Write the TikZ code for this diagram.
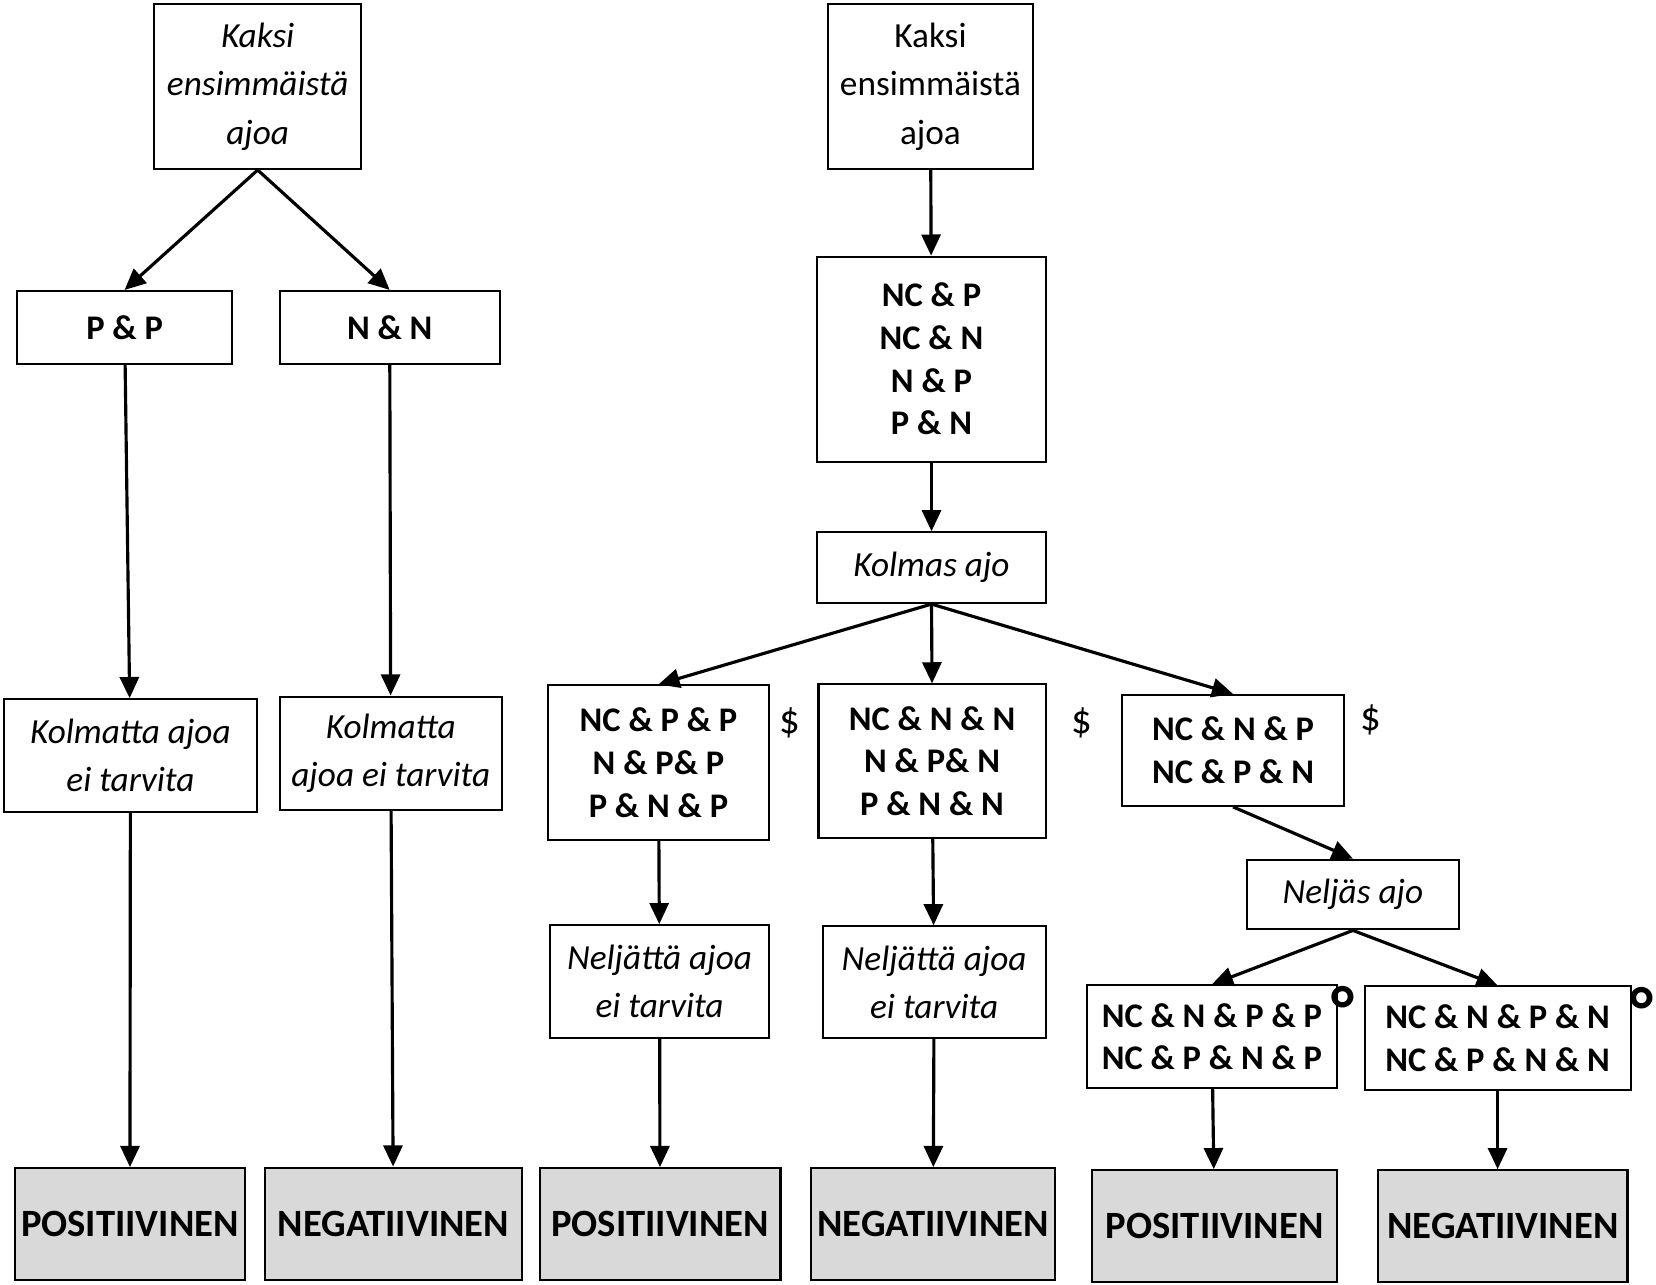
\documentclass[tikz,border=0pt]{standalone}
\usepackage{fontspec}
\setmainfont{Carlito}
\usepackage{xcolor}
\usepackage{tikz}
\usetikzlibrary{arrows.meta,positioning}
\definecolor{ResGray}{HTML}{D9D9D9}

\begin{document}
\begin{tikzpicture}[
  qbox/.style={draw,line width=1.1pt,align=center,inner sep=2pt,
               minimum width=#1,font=\fontsize{19}{26}\selectfont\itshape},
  cbox/.style={draw,line width=1.1pt,align=center,inner sep=2pt,
               minimum width=#1,font=\fontsize{18.6}{23}\selectfont\bfseries},
  res/.style={draw,line width=1.1pt,fill=ResGray,minimum width=#1,
              minimum height=2.12cm,font=\fontsize{20.8}{24}\selectfont\bfseries},
  sym/.style={inner sep=0pt,font=\fontsize{22}{26}\selectfont},
  arr/.style={-{Triangle[length=0.4cm,width=0.36cm]},line width=1.7pt}
]
  \useasboundingbox (0,0) rectangle (31.36,-24.32);

  % Left tree
  \node[qbox=3.92cm,minimum height=3.12cm] (k1) at (4.88,-1.64)
    {Kaksi\\ensimmäistä\\ajoa};
  \node[cbox=4.08cm,minimum height=1.38cm] (pp) at (2.36,-6.20) {P \& P};
  \node[cbox=4.16cm,minimum height=1.38cm] (nn) at (7.38,-6.20) {N \& N};
  \node[qbox=4.78cm,minimum height=2.14cm] (kol1) at (2.47,-14.31)
    {Kolmatta ajoa\\ei tarvita};
  \node[qbox=4.20cm,minimum height=2.14cm] (kol2) at (7.40,-14.26)
    {Kolmatta\\ajoa ei tarvita};
  \node[res=4.36cm] (pos1) at (2.46,-23.18) {POSITIIVINEN};
  \node[res=4.86cm] (neg1) at (7.45,-23.17) {NEGATIIVINEN};

  % Right tree
  \node[qbox=3.88cm,minimum height=3.12cm,font=\fontsize{19}{26}\selectfont] (k2)
    at (17.62,-1.64) {Kaksi\\ensimmäistä\\ajoa};
  \node[cbox=4.32cm,minimum height=3.88cm] (nc) at (17.64,-6.80)
    {NC \& P\\NC \& N\\N \& P\\P \& N};
  \node[qbox=4.32cm,minimum height=1.34cm] (kolmas) at (17.64,-10.75) {Kolmas ajo};

  % Third run
  \node[cbox=4.18cm,minimum height=2.92cm] (b1) at (12.47,-14.44)
    {NC \& P \& P\\N \& P\& P\\P \& N \& P};
  \node[cbox=4.30cm,minimum height=2.90cm] (b2) at (17.65,-14.41)
    {NC \& N \& N\\N \& P\& N\\P \& N \& N};
  \node[cbox=4.22cm,minimum height=2.10cm] (b3) at (23.35,-14.21)
    {NC \& N \& P\\NC \& P \& N};
  \node[sym] (d1) at (14.96,-13.68) {\$};
  \node[sym] (d2) at (20.48,-13.68) {\$};
  \node[sym] (d3) at (25.96,-13.64) {\$};

  % Fourth run
  \node[qbox=4.00cm,minimum height=1.32cm] (nelias) at (25.62,-16.94) {Neljäs ajo};
  \node[qbox=4.14cm,minimum height=2.14cm] (nel1) at (12.49,-18.59)
    {Neljättä ajoa\\ei tarvita};
  \node[qbox=4.22cm,minimum height=2.12cm] (nel2) at (17.69,-18.60)
    {Neljättä ajoa\\ei tarvita};
  \node[cbox=4.74cm,minimum height=1.94cm] (b4) at (22.95,-19.63)
    {NC \& N \& P \& P\\NC \& P \& N \& P};
  \node[cbox=5.04cm,minimum height=1.96cm] (b5) at (28.36,-19.66)
    {NC \& N \& P \& N\\NC \& P \& N \& N};
  \node[sym,font=\fontsize{36}{36}\selectfont\bfseries] (o1) at (25.44,-19.12) {°};
  \node[sym,font=\fontsize{36}{36}\selectfont\bfseries] (o2) at (31.10,-19.14) {°};

  % Results
  \node[res=4.56cm] (pos2) at (12.50,-23.18) {POSITIIVINEN};
  \node[res=4.62cm] (neg2) at (17.67,-23.18) {NEGATIIVINEN};
  \node[res=4.64cm] (pos3) at (23.00,-23.22) {POSITIIVINEN};
  \node[res=4.72cm] (neg3) at (28.46,-23.22) {NEGATIIVINEN};

  % Arrows
  \draw[arr] (k1.south) -- (pp.north);
  \draw[arr] (k1.south) -- (nn.north);
  \draw[arr] (pp) -- (kol1);
  \draw[arr] (nn) -- (kol2);
  \draw[arr] (kol1) -- (pos1);
  \draw[arr] (kol2) -- (neg1);
  \draw[arr] (k2) -- (nc);
  \draw[arr] (nc) -- (kolmas);
  \draw[arr] (kolmas.south) -- (b1.north);
  \draw[arr] (kolmas.south) -- (b2.north);
  \draw[arr] (kolmas.south) -- (b3.north);
  \draw[arr] (b1) -- (nel1);
  \draw[arr] (b2) -- (nel2);
  \draw[arr] (b3.south) -- (nelias.north);
  \draw[arr] (nelias.south) -- (b4.north);
  \draw[arr] (nelias.south) -- (b5.north);
  \draw[arr] (nel1) -- (pos2);
  \draw[arr] (nel2) -- (neg2);
  \draw[arr] (b4) -- (pos3);
  \draw[arr] (b5.south) -- (b5.south |- neg3.north);
\end{tikzpicture}
\end{document}
